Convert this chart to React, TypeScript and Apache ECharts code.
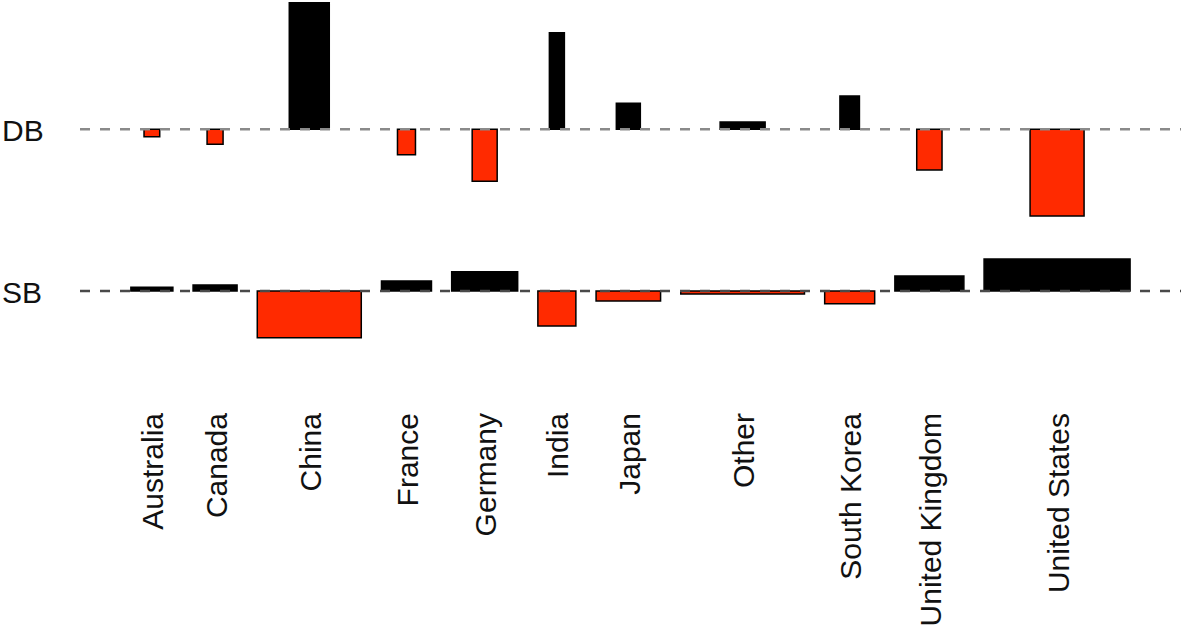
import React, { useEffect, useRef } from "react";
import * as echarts from "echarts";

const categories = [
  "Australia", "Canada", "China", "France", "Germany", "India",
  "Japan", "Other", "South Korea", "United Kingdom", "United States",
];
const rowNames = ["DB", "SB"];
// box widths (proportional to sqrt of expected counts)
const dbWidth = [15.7, 16, 40, 18, 25, 15, 24, 45, 19.5, 25.3, 54];
const sbWidth = [42, 44, 104, 50, 66, 38, 64.5, 123.7, 50, 69, 146];
// box heights (Pearson residuals, same scale)
const dbResid = [-7.4, -15, 126.6, -25.4, -52, 96.6, 26, 7.3, 33.3, -40.7, -86.7];
const sbResid = [3.7, 6, -46.7, 10, 19.3, -35, -10, -3, -12.7, 15, 32];

const POS = "#000000";
const NEG = "#ff2a00";
const FONT = "Liberation Sans, Arial, Helvetica, sans-serif";

export default function App() {
  const ref = useRef<HTMLDivElement>(null);
  useEffect(() => {
    if (!ref.current) return;
    const chart = echarts.init(ref.current, undefined, { renderer: "svg" });

    // layout like R's assocplot
    const colW = categories.map((_, i) => Math.max(dbWidth[i], sbWidth[i]));
    const gapX = 20.2;
    const centers: number[] = [];
    let acc = gapX / 2;
    colW.forEach((w) => {
      centers.push(acc + w / 2);
      acc += w + gapX;
    });
    const totalW = acc - gapX / 2;
    const padX = totalW * 0.04;
    const rowGap = 43;
    const sbBase = 0;
    const dbBase = Math.max(...sbResid) + rowGap - Math.min(...dbResid);
    const bases = [dbBase, sbBase];

    const boxes: number[][] = [];
    categories.forEach((_, i) => {
      boxes.push([centers[i], dbBase, dbWidth[i], dbResid[i]]);
      boxes.push([centers[i], sbBase, sbWidth[i], sbResid[i]]);
    });

    const yHi = 291;
    const yLo = -100;
    const gridLeft = 80;
    const gridW = totalW + 2 * padX;

    chart.setOption({
      animation: false,
      backgroundColor: "#ffffff",
      grid: {
        left: gridLeft,
        top: 0,
        width: gridW,
        height: yHi - yLo,
      },
      xAxis: { type: "value", min: -padX, max: totalW + padX, show: false },
      yAxis: { type: "value", min: yLo, max: yHi, show: false },
      series: [
        {
          type: "custom",
          z: 2,
          clip: false,
          data: boxes,
          renderItem: (params: any, api: any) => {
            const c = api.value(0);
            const base = api.value(1);
            const w = api.value(2);
            const r = api.value(3);
            const p1 = api.coord([c - w / 2, base + Math.max(r, 0)]);
            const p2 = api.coord([c + w / 2, base + Math.min(r, 0)]);
            return {
              type: "rect",
              shape: {
                x: p1[0],
                y: p1[1],
                width: p2[0] - p1[0],
                height: p2[1] - p1[1],
              },
              style: {
                fill: r > 0 ? POS : NEG,
                stroke: "#000",
                lineWidth: 1.5,
              },
            };
          },
        },
        {
          type: "custom",
          z: 5,
          clip: false,
          data: bases.map((b, i) => [b, i]),
          renderItem: (params: any, api: any) => {
            const b = api.value(0);
            const i = api.value(1);
            const pL = api.coord([-padX, b]);
            const pR = api.coord([totalW + padX, b]);
            return {
              type: "group",
              children: [
                {
                  type: "line",
                  shape: { x1: pL[0], y1: pL[1], x2: 1181, y2: pR[1] },
                  style: {
                    stroke: i === 0 ? "#8a8a8a" : "#4a4a4a",
                    lineWidth: 2.6,
                    lineDash: [10, 10],
                  },
                },
                {
                  type: "text",
                  x: 2,
                  y: pL[1] + 1,
                  style: {
                    text: rowNames[i],
                    font: `30px ${FONT}`,
                    fill: "#111",
                    align: "left",
                    verticalAlign: "middle",
                  },
                },
              ],
            };
          },
        },
        {
          type: "custom",
          z: 5,
          clip: false,
          data: categories.map((name, i) => [centers[i], i]),
          renderItem: (params: any, api: any) => {
            const c = api.value(0);
            const i = api.value(1);
            const p = api.coord([c, 0]);
            return {
              type: "text",
              x: p[0] + 1,
              y: 413,
              rotation: Math.PI / 2,
              style: {
                text: categories[i],
                font: `30px ${FONT}`,
                fill: "#111",
                align: "right",
                verticalAlign: "middle",
              },
            };
          },
        },
      ],
    });
    return () => chart.dispose();
  }, []);
  return (
    <div
      ref={ref}
      style={{ position: "fixed", left: 0, top: 0, width: 1181, height: 633 }}
    />
  );
}
